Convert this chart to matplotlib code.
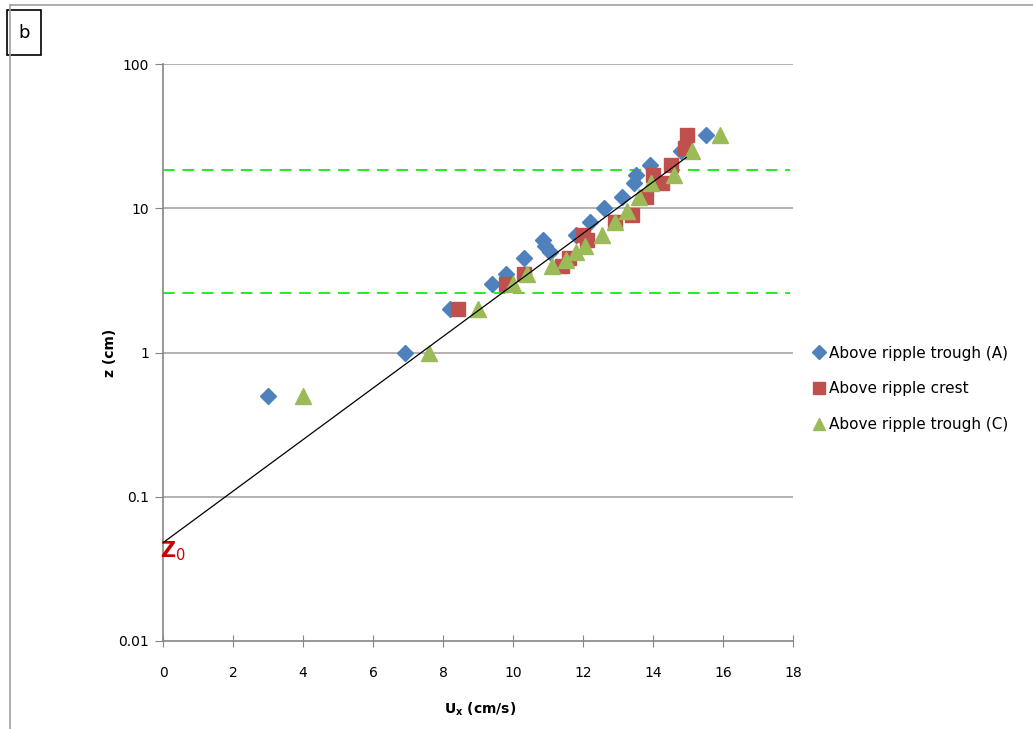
import matplotlib
matplotlib.use('Agg')
import matplotlib.pyplot as plt
from matplotlib.lines import Line2D
from matplotlib.patches import Rectangle

# Above ripple trough (A)
ux_a = [3.0, 6.9, 8.2, 9.4, 9.8, 10.3, 10.85, 10.9, 11.05, 11.8, 12.2, 12.6, 13.1, 13.45, 13.5, 13.9, 14.8, 15.5]
z_a = [0.5, 1, 2, 3, 3.5, 4.5, 6, 5.5, 5, 6.5, 8, 10, 12, 15, 17, 20, 25, 32]

# Above ripple crest
ux_b = [8.43, 9.8, 10.3, 11.4, 11.6, 12.0, 12.1, 12.9, 13.4, 13.8, 14.0, 14.25, 14.5, 14.9, 14.97]
z_b = [2, 3, 3.5, 4, 4.5, 6.5, 6, 8, 9, 12, 17, 15, 20, 26, 32]

# Above ripple trough (C)
ux_c = [4.0, 7.6, 9.0, 10.0, 10.4, 11.1, 11.5, 11.8, 12.05, 12.55, 12.9, 13.25, 13.6, 13.95, 14.6, 15.1, 15.9]
z_c = [0.5, 1, 2, 3, 3.5, 4, 4.4, 5, 5.5, 6.5, 8, 9.5, 12, 15, 17, 25, 32]

# fitted log line end points and the two dashed levels
fit_ux = [0, 14.95]
fit_z = [0.048, 22.5]
levels = [18.5, 2.6]

fig = plt.figure(figsize=(10.33, 7.29), dpi=100)
ax = fig.add_axes([163 / 1033, 1 - 641 / 729, 630 / 1033, 577 / 729])

ax.set_yscale('log')
ax.set_xlim(0, 18)
ax.set_ylim(0.01, 100)

for lv in [0.1, 1, 10, 100]:
    ax.axhline(lv, color='#a6a6a6', lw=1.2, zorder=0)

for lv in levels:
    ax.plot([0, 17.9], [lv, lv], color='#1eee1e', lw=1.4, dashes=(6, 4), zorder=1)

ax.plot(ux_a, z_a, 'D', color='#4f81bd', ms=8.5, mec='#4f81bd', label='Above ripple trough (A)', zorder=3)
ax.plot(ux_b, z_b, 's', color='#c0504d', ms=10, mec='#c0504d', label='Above ripple crest', zorder=4)
ax.plot(ux_c, z_c, '^', color='#9bbb59', ms=11, mec='#9bbb59', label='Above ripple trough (C)', zorder=5)
ax.plot(fit_ux, fit_z, color='black', lw=0.9, zorder=6)

ax.text(-0.08, 0.042, r'$\mathbf{Z}_{0}$', color='#cc0000', fontsize=15, ha='left', va='center')

for s in ['top', 'right']:
    ax.spines[s].set_visible(False)
for s in ['left', 'bottom']:
    ax.spines[s].set_color('#868686')
    ax.spines[s].set_linewidth(1.2)

ax.set_xticks(range(0, 19, 2))
ax.set_yticks([0.01, 0.1, 1, 10, 100])
ax.set_yticklabels(['0.01', '0.1', '1', '10', '100'])
ax.minorticks_off()
ax.tick_params(axis='x', direction='inout', length=8, color='#868686', labelsize=10, pad=14)
ax.tick_params(axis='y', direction='out', length=6, color='#868686', labelsize=10, pad=4)

ax.set_xlabel(r'U$_\mathbf{x}$ (cm/s)', fontsize=10, fontweight='bold')
ax.set_ylabel('z (cm)', fontsize=10, fontweight='bold')
ax.xaxis.set_label_coords(0.503, -0.103)
ax.yaxis.set_label_coords(-0.073, 0.5)

ax.legend(loc='center left', bbox_to_anchor=(1.025, 0.437), frameon=False, fontsize=11,
          handlelength=0.5, handletextpad=0.4, labelspacing=1.35, borderaxespad=0, markerscale=0.85)

# outer chart border and panel letter
fig.add_artist(Line2D([10 / 1033, 1], [1 - 5 / 729, 1 - 5 / 729], color='#a0a0a0', lw=1.2))
fig.add_artist(Line2D([10 / 1033, 10 / 1033], [0, 1 - 5 / 729], color='#a0a0a0', lw=1.2))
fig.add_artist(Rectangle((7 / 1033, 1 - 55 / 729), 34 / 1033, 45 / 729, fill=True,
                         facecolor='white', edgecolor='black', lw=1.2))
fig.text(24 / 1033, 1 - 33 / 729, 'b', fontsize=13, ha='center', va='center')

fig.savefig('out.png', dpi=100)
